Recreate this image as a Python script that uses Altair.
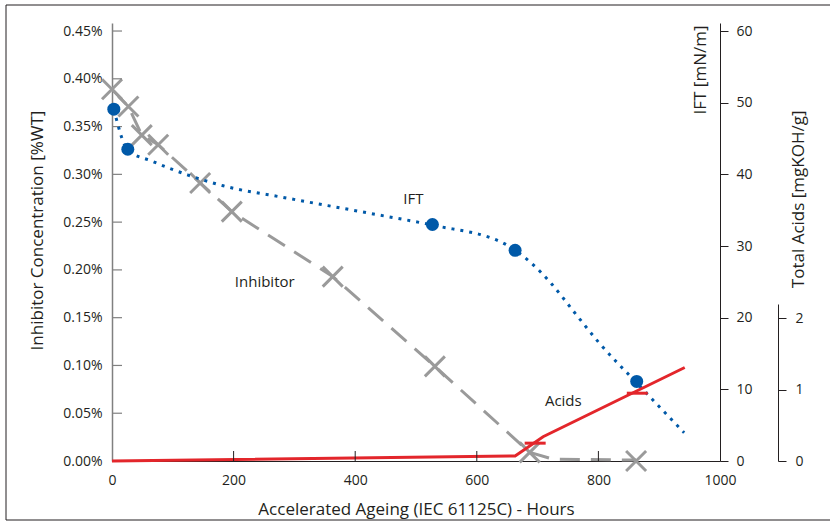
import altair as alt
import pandas as pd

FONT = "Open Sans"
INK = "#231F20"
BLUE = "#0059A8"
RED = "#E3262B"
GRAY = "#9A9A9A"

# ---- data ----
inh_hours = [0, 27, 49, 76, 145, 197, 363, 531, 687, 862]
inh_pct = [0.389, 0.371, 0.341, 0.331, 0.291, 0.261, 0.193, 0.099, 0.009, 0.0]
inh_line_hours = [0, 27, 49, 76, 145, 197, 363, 531, 687, 725, 862]
inh_line_pct = [0.389, 0.371, 0.341, 0.331, 0.291, 0.261, 0.193, 0.099, 0.009, 0.002, 0.001]

ift_hours = [3, 26, 527, 663, 863]
ift_vals = [49.1, 43.5, 33.0, 29.4, 11.1]
ift_line_hours = [3, 26, 67, 125, 183, 287, 441, 528, 646, 663, 690, 720, 760, 800, 863, 941]
ift_line_vals = [49.1, 43.4, 41.8, 39.9, 38.4, 36.7, 34.3, 32.9, 30.3, 29.4, 27.6, 25.0, 20.8, 16.6, 10.9, 3.95]

acid_hours = [0, 663, 709, 942]
acid_vals = [0.0, 0.07, 0.34, 1.31]
acid_tick_hours = [696, 864]
acid_tick_vals = [0.25, 0.95]

x_ticks = [200, 400, 600, 800]
pct_ticks = [0.05, 0.10, 0.15, 0.20, 0.25, 0.30, 0.35, 0.40, 0.45]

labels_inh = pd.DataFrame({"hours": [202], "pct": [0.182], "text": ["Inhibitor"]})
labels_ift = pd.DataFrame({"hours": [479], "ift": [35.9], "text": ["IFT"]})
labels_acid = pd.DataFrame({"hours": [712], "acids": [0.77], "text": ["Acids"]})

W, H = 608, 438
TFS = 17

inh_pts = pd.DataFrame({"hours": inh_hours, "pct": inh_pct})
inh_line = pd.DataFrame({"hours": inh_line_hours, "pct": inh_line_pct})
ift_pts = pd.DataFrame({"hours": ift_hours, "ift": ift_vals})
ift_line = pd.DataFrame({"hours": ift_line_hours, "ift": ift_line_vals})
acid_line = pd.DataFrame({"hours": acid_hours, "acids": acid_vals})
acid_ticks = pd.DataFrame({"hours": acid_tick_hours, "acids": acid_tick_vals})
xt = pd.DataFrame({"hours": x_ticks})
yt = pd.DataFrame({"pct": pct_ticks})

xscale = alt.Scale(domain=[0, 1000], nice=False)
x_main = alt.X("hours:Q", scale=xscale, axis=alt.Axis(
    values=[0, 200, 400, 600, 800, 1000], format="d", tickSize=0, labelPadding=12,
    labelFlush=False, grid=False, domainColor=INK, domainWidth=1,
    title="Accelerated Ageing (IEC 61125C) - Hours", titlePadding=14,
    titleFontSize=TFS, titleFontWeight="normal"))

pct_scale = alt.Scale(domain=[0, 0.4584], nice=False)
y_pct = alt.Y("pct:Q", scale=pct_scale, axis=alt.Axis(
    orient="left", values=[0] + pct_ticks, tickSize=0, labelPadding=10,
    labelExpr="format(datum.value, '.2f') + '%'", grid=False,
    domainColor="#808080", domainWidth=1.5,
    title="Inhibitor Concentration [%WT]", titleAngle=270, titleX=-75, titleY=207,
    titleAlign="center", titleBaseline="middle", titleFontSize=TFS,
    titleFontWeight="normal"))

inh_layer = alt.layer(
    alt.Chart(inh_line).mark_line(color=GRAY, strokeWidth=3, strokeDash=[20, 11]).encode(
        x=x_main, y=y_pct),
    alt.Chart(inh_pts).mark_point(shape="M-1,-1L1,1M-1,1L1,-1", size=400, filled=False,
                                  stroke=GRAY, strokeWidth=3, opacity=1).encode(
        x=x_main, y=y_pct),
    alt.Chart(yt).mark_rule(color="#808080", strokeWidth=1.2).encode(
        y=y_pct, x=alt.value(0), x2=alt.value(10)),
    alt.Chart(labels_inh).mark_text(font=FONT, fontSize=15, color=INK, align="left",
                                    baseline="alphabetic").encode(
        x=x_main, y=y_pct, text="text:N"),
)

ift_scale = alt.Scale(domain=[0, 61.12], nice=False)
y_ift = alt.Y("ift:Q", scale=ift_scale, axis=alt.Axis(
    orient="right", values=[0, 10, 20, 30, 40, 50, 60], tickSize=8, labelPadding=8,
    grid=False, domainColor=INK, tickColor=INK, offset=0,
    title="IFT [mN/m]", titleAngle=270, titleX=-20, titleY=2, titleAlign="right",
    titleBaseline="middle", titleFontSize=TFS, titleFontWeight="normal"))

ift_layer = alt.layer(
    alt.Chart(ift_line).mark_line(color=BLUE, strokeWidth=3, strokeDash=[3, 6],
                                  interpolate="monotone").encode(x=x_main, y=y_ift),
    alt.Chart(ift_pts).mark_circle(color=BLUE, size=169, opacity=1).encode(
        x=x_main, y=y_ift),
    alt.Chart(labels_ift).mark_text(font=FONT, fontSize=15, color=INK, align="left",
                                    baseline="alphabetic").encode(
        x=x_main, y=y_ift, text="text:N"),
)

acid_scale = alt.Scale(domain=[0, 2.2], range=[H, 281], nice=False)
y_acid = alt.Y("acids:Q", scale=acid_scale, axis=alt.Axis(
    orient="right", values=[0, 1, 2], tickSize=8, labelPadding=9, grid=False,
    domainColor=INK, tickColor=INK, offset=58,
    title="Total Acids [mgKOH/g]", titleAngle=270, titleX=20, titleY=87,
    titleAlign="right", titleBaseline="middle", titleFontSize=TFS,
    titleFontWeight="normal"))

acid_layer = alt.layer(
    alt.Chart(acid_line).mark_line(color=RED, strokeWidth=3).encode(x=x_main, y=y_acid),
    alt.Chart(acid_ticks).mark_point(shape="stroke", size=441, filled=False, stroke=RED,
                                     strokeWidth=3, opacity=1).encode(
        x=x_main, y=y_acid),
    alt.Chart(labels_acid).mark_text(font=FONT, fontSize=15, color=INK, align="left",
                                     baseline="alphabetic").encode(
        x=x_main, y=y_acid, text="text:N"),
)

xtick_layer = alt.Chart(xt).mark_rule(color=INK, strokeWidth=1).encode(
    x=x_main, y=alt.value(H), y2=alt.value(H - 10))

frame = alt.Chart(pd.DataFrame({"a": [0]})).mark_rect(
    fillOpacity=0, stroke=INK, strokeWidth=1).encode(
    x=alt.value(-106), x2=alt.value(740), y=alt.value(-18), y2=alt.value(497))

chart = alt.layer(inh_layer, ift_layer, acid_layer, xtick_layer, frame).resolve_scale(
    y="independent"
).properties(
    width=W, height=H,
    background="white",
    autosize=alt.AutoSizeParams(type="none"),
    padding={"left": 112, "top": 23, "right": 110, "bottom": 66},
).configure_view(strokeWidth=0).configure_axis(
    labelFont=FONT, titleFont=FONT, labelFontSize=14, labelColor=INK, titleColor=INK,
)

chart.save("out.html", embed_options={"renderer": "svg", "actions": False})
